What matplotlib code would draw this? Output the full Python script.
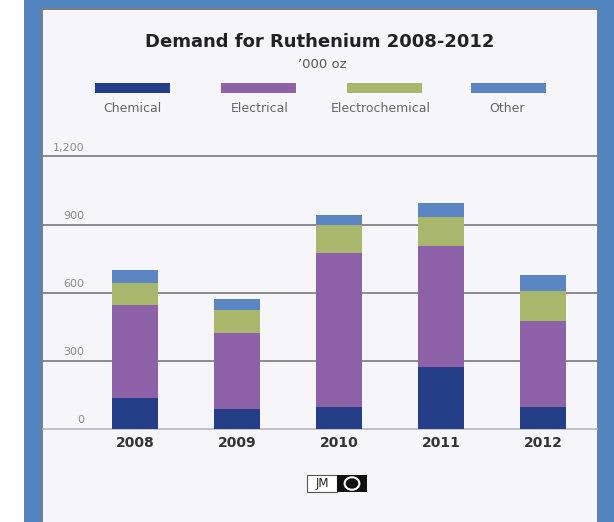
import matplotlib
matplotlib.use("Agg")
import matplotlib.pyplot as plt
from matplotlib.patches import Rectangle, Circle
import numpy as np

years = ["2008", "2009", "2010", "2011", "2012"]
chemical = [138, 88, 98, 274, 98]
electrical = [406, 334, 677, 530, 377]
electrochemical = [101, 100, 125, 130, 132]
other = [53, 52, 44, 61, 70]
series_names = ["Chemical", "Electrical", "Electrochemical", "Other"]
colors = ["#243f88", "#8e62a9", "#a9b76c", "#5b86c3"]
yticks = [0, 300, 600, 900, 1200]
ytick_labels = ["0", "300", "600", "900", "1,200"]

W, H = 614, 522
fig = plt.figure(figsize=(W / 100, H / 100), dpi=100)
fig.patch.set_facecolor("white")

def fx(px):
    return px / W

def fy(py):
    return 1 - py / H

# frame
fig.patches.append(Rectangle((fx(24), 0), fx(614) - fx(24), 1, transform=fig.transFigure,
                             facecolor="#5284c0", edgecolor="none", zorder=0))
fig.patches.append(Rectangle((fx(41), 0), fx(598) - fx(41), fy(8), transform=fig.transFigure,
                             facecolor="#7b7f88", edgecolor="none", zorder=0.5))
fig.patches.append(Rectangle((fx(43), 0), fx(597) - fx(43), fy(10), transform=fig.transFigure,
                             facecolor="#f5f5fa", edgecolor="none", zorder=0.6))

# axes
ax_left, ax_right = 43, 597
y0_px, y1200_px = 429, 156.5
ax = fig.add_axes([fx(ax_left), fy(y0_px), fx(ax_right) - fx(ax_left), (y0_px - y1200_px) / H])
ax.set_zorder(2)
ax.set_facecolor("none")
c0, step = 135, 102
ax.set_xlim((ax_left - c0) / step, (ax_right - c0) / step)
ax.set_ylim(0, 1200)
for s in ax.spines.values():
    s.set_visible(False)
ax.set_xticks([])
ax.set_yticks([])

for v, lab in zip(yticks, ytick_labels):
    col = "#b5b5b8" if v == 0 else "#6f6f73"
    ax.axhline(v, color=col, lw=1.1, zorder=1, clip_on=False)
    ax.text((84 - ax_left) / (ax_right - ax_left), v + 38, lab,
            transform=ax.get_yaxis_transform(), ha="right", va="center",
            fontsize=8, color="#8a8a8e")

x = np.arange(len(years))
bottom = np.zeros(len(years))
for vals, col in zip([chemical, electrical, electrochemical, other], colors):
    ax.bar(x, vals, bottom=bottom, width=0.46, color=col, edgecolor="none", zorder=2)
    bottom += np.array(vals)

for i, yr in enumerate(years):
    ax.text(i, -30, yr, ha="center", va="top", fontsize=10, fontweight="bold", color="#333333")

# title
fig.text(fx(320), fy(42), "Demand for Ruthenium 2008-2012", ha="center", va="center",
         fontsize=13, fontweight="bold", color="#222222", zorder=4)
fig.text(fx(322), fy(64), "\u2019000 oz", ha="center", va="center", fontsize=9.5,
         color="#555555", zorder=4)

# legend
sw_x = [95, 221, 347, 471]
lab_x = [132, 260, 381, 507]
for sx, lx, name, col in zip(sw_x, lab_x, series_names, colors):
    fig.patches.append(Rectangle((fx(sx), fy(93)), fx(75), 10 / H, transform=fig.transFigure,
                                 facecolor=col, edgecolor="none", zorder=3))
    fig.text(fx(lx), fy(109), name, ha="center", va="center", fontsize=9, color="#666666", zorder=4)

# JM logo
fig.patches.append(Rectangle((fx(307), fy(492)), fx(30), 17 / H, transform=fig.transFigure,
                             facecolor="white", edgecolor="#555555", lw=0.8, zorder=3))
fig.text(fx(322), fy(483.5), "JM", ha="center", va="center", fontsize=8.5, color="#222222", zorder=4)
fig.patches.append(Rectangle((fx(337), fy(492)), fx(30), 17 / H, transform=fig.transFigure,
                             facecolor="#111111", edgecolor="none", zorder=3))
fig.patches.append(Circle((fx(352), fy(483.5)), 0.012, transform=fig.transFigure,
                          facecolor="none", edgecolor="white", lw=1.5, zorder=4))

fig.savefig("out.png", dpi=100, facecolor=fig.get_facecolor())
